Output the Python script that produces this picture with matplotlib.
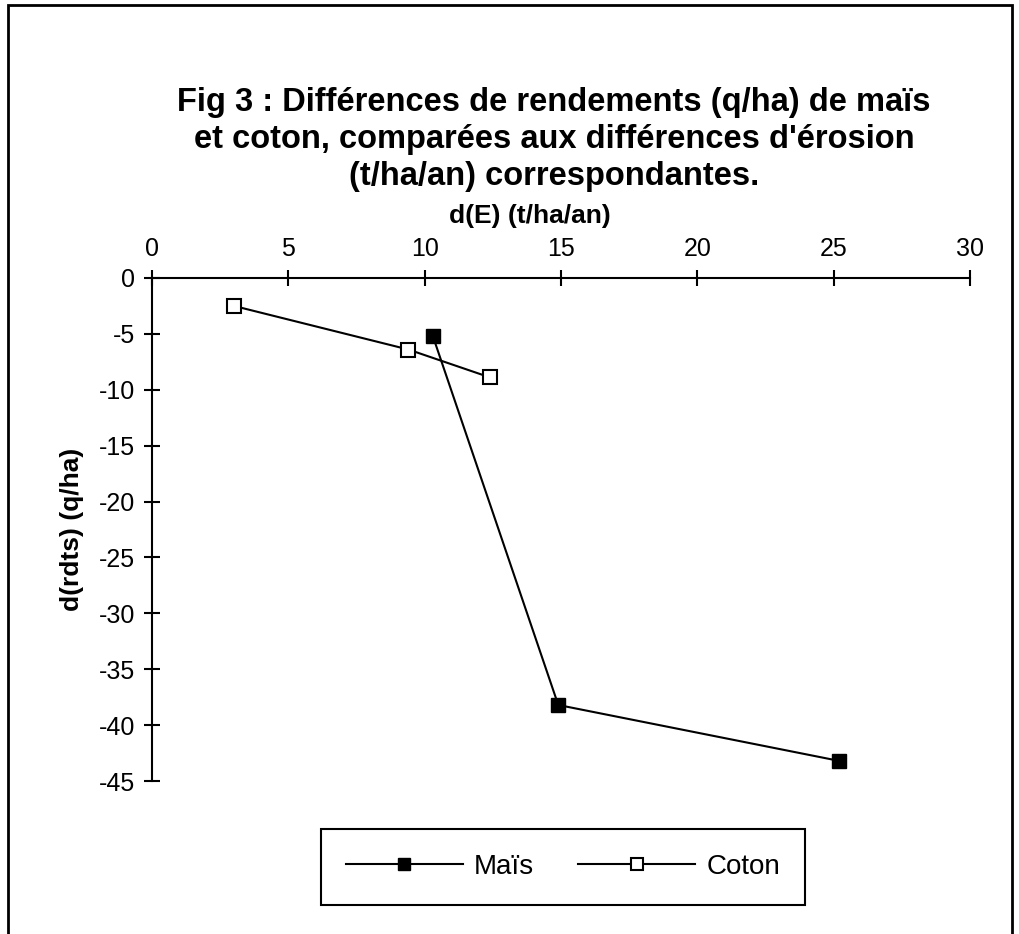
import matplotlib.pyplot as plt
from matplotlib.patches import Rectangle

plt.rcParams['font.family'] = ['Liberation Sans', 'DejaVu Sans']
plt.rcParams['axes.unicode_minus'] = False

mais_x = [10.3, 14.9, 25.2]
mais_y = [-5.2, -38.2, -43.2]
coton_x = [3.0, 9.4, 12.4]
coton_y = [-2.5, -6.4, -8.9]

xticks = [0, 5, 10, 15, 20, 25, 30]
yticks = [0, -5, -10, -15, -20, -25, -30, -35, -40, -45]

fig = plt.figure(figsize=(10.2, 9.34), dpi=100)
ax = fig.add_axes([0.149, 0.1638, 0.802, 0.5386])

ax.plot(mais_x, mais_y, color='black', lw=1.5, marker='s', ms=9.5,
        mfc='black', mec='black', label='Maïs')
ax.plot(coton_x, coton_y, color='black', lw=1.5, marker='s', ms=10.5,
        mfc='white', mec='black', mew=1.5, label='Coton')

ax.set_xlim(0, 30)
ax.set_ylim(-45, 0)
ax.set_xticks(xticks)
ax.set_yticks(yticks)
ax.xaxis.tick_top()
ax.xaxis.set_label_position('top')
ax.spines['bottom'].set_visible(False)
ax.spines['right'].set_visible(False)
ax.spines['top'].set_linewidth(1.5)
ax.spines['left'].set_linewidth(1.5)
ax.tick_params(axis='both', direction='inout', length=12, width=1.5,
               labelsize=18, pad=6)
ax.set_xlabel('d(E) (t/ha/an)', fontsize=19, fontweight='bold', labelpad=10)
ax.xaxis.label.set_x(0.462)
ax.set_ylabel('d(rdts) (q/ha)', fontsize=19, fontweight='bold', labelpad=11)

fig.text(0.543, 0.907,
         "Fig 3 : Différences de rendements (q/ha) de maïs\n"
         "et coton, comparées aux différences d'érosion\n"
         "(t/ha/an) correspondantes.",
         ha='center', va='top', fontsize=23.5, fontweight='bold',
         linespacing=1.26)

leg = fig.legend(loc='center', bbox_to_anchor=(0.552, 0.072), ncol=2,
                 fontsize=20, handlelength=4.2, handletextpad=0.4,
                 columnspacing=1.6, borderpad=0.9, fancybox=False,
                 framealpha=1, edgecolor='black', markerscale=0.85)
leg.get_frame().set_linewidth(1.5)

fig.patches.append(Rectangle((0.008, -0.01), 0.984, 1.005,
                             transform=fig.transFigure, fill=False,
                             edgecolor='black', lw=2))

fig.savefig('out.png', dpi=100)
